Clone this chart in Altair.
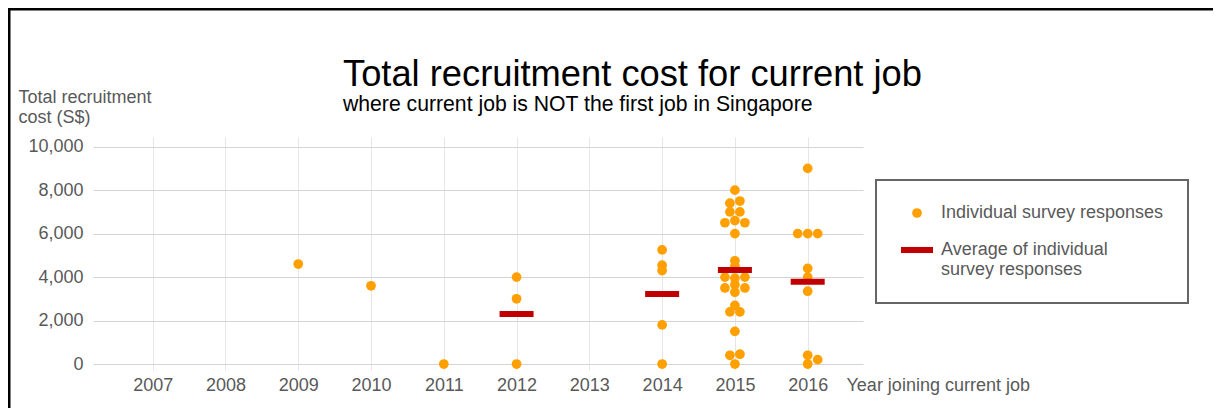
import altair as alt
import pandas as pd

# ---- data ----
point_years = [2009, 2010, 2011,
               2012, 2012, 2012,
               2014, 2014, 2014, 2014, 2014,
               2015, 2015, 2015, 2015, 2015, 2015, 2015, 2015, 2015, 2015, 2015, 2015, 2015,
               2015, 2015, 2015, 2015, 2015, 2015, 2015, 2015, 2015, 2015, 2015, 2015,
               2016, 2016, 2016, 2016, 2016, 2016, 2016, 2016, 2016, 2016]
point_costs = [4600, 3600, 0,
               0, 3000, 4000,
               0, 1800, 4300, 4550, 5250,
               0, 400, 450, 1500, 2400, 2400, 2700, 3300, 3500, 3500, 3650, 3950, 4000,
               4000, 4500, 4750, 6000, 6500, 6500, 6600, 7000, 7000, 7400, 7500, 8000,
               0, 200, 400, 3350, 4000, 4400, 6000, 6000, 6000, 9000]
# beeswarm column of each dot
point_jitter = [0, 0, 0,
                0, 0, 0,
                0, 0, 0, 0, 0,
                0, -0.5, 0.5, 0, -0.5, 0.5, 0, 0, -1, 1, 0, 0, -1,
                1, 0, 0, 0, -1, 1, 0, -0.5, 0.5, -0.5, 0.5, 0,
                0, 1, 0, 0, 0, 0, -1, 0, 1, 0]

avg_years = [2012, 2014, 2015, 2016]
avg_costs = [2300, 3220, 4330, 3790]

year_ticks = list(range(2007, 2017))
cost_ticks = list(range(0, 10001, 1000))

series_names = ["Individual survey responses", "Average of individual survey responses"]

points_df = pd.DataFrame({"year": point_years, "cost": point_costs,
                          "jitter": point_jitter, "series": series_names[0]})
avg_df = pd.DataFrame({"year": avg_years, "cost": avg_costs, "series": series_names[1]})

FONT = "Liberation Sans"
GREY = "#595959"
ORANGE = "#FFA000"
RED = "#C00000"

x_scale = alt.Scale(domain=[2006.18, 2016.76], nice=False, zero=False)
y_scale = alt.Scale(domain=[-276, 10446], nice=False, zero=False)

x_axis = alt.Axis(values=year_ticks, format="d", ticks=False, domain=False,
                  grid=True, gridColor="#e6e6e6", labelPadding=6,
                  title="Year joining current job", titleX=753, titleY=6,
                  titleAlign="left", titleBaseline="top", titleAnchor="start")
y_axis = alt.Axis(values=cost_ticks,
                  labelExpr="datum.value % 2000 === 0 ? format(datum.value, ',') : ''",
                  ticks=False, domain=False, grid=True, gridColor="#d4d4d4",
                  labelPadding=10,
                  title=["Total recruitment", "cost (S$)"], titleAngle=0,
                  titleAlign="left", titleBaseline="top", titleX=-75, titleY=-49,
                  titleLineHeight=20, titleAnchor="start")

legend_expr = ("datum.label === 'Average of individual survey responses' ? "
               "['Average of individual', 'survey responses'] : datum.label")

points = alt.Chart(points_df).transform_calculate(
    xj="datum.year + datum.jitter * 0.137"
).mark_point(filled=True, opacity=1, strokeWidth=0).encode(
    x=alt.X("xj:Q", scale=x_scale, axis=x_axis),
    y=alt.Y("cost:Q", scale=y_scale, axis=y_axis),
    color=alt.Color("series:N", scale=alt.Scale(domain=series_names, range=[ORANGE, RED]),
                    legend=alt.Legend(title=None, labelExpr=legend_expr)),
    shape=alt.Shape("series:N", scale=alt.Scale(domain=series_names,
                                                range=["circle", "M-1,-0.19H1V0.19H-1Z"]),
                    legend=alt.Legend(title=None, labelExpr=legend_expr)),
    size=alt.Size("series:N", scale=alt.Scale(domain=series_names, range=[95, 1024]),
                  legend=alt.Legend(title=None, labelExpr=legend_expr)),
)

avgs = alt.Chart(avg_df).mark_tick(orient="horizontal", size=34, thickness=6,
                                    color=RED, opacity=1).encode(
    x=alt.X("year:Q", scale=x_scale),
    y=alt.Y("cost:Q", scale=y_scale),
)

frame_src = alt.InlineData(values=[{"k": 1}])
frame_top = alt.Chart(frame_src).mark_rule(color="black", strokeWidth=3).encode(
    x=alt.value(-85), x2=alt.value(1120), y=alt.value(-128))
frame_left = alt.Chart(frame_src).mark_rule(color="black", strokeWidth=3).encode(
    x=alt.value(-84), y=alt.value(-129), y2=alt.value(271))

chart = alt.layer(points, avgs, frame_top, frame_left).properties(
    width=770, height=233,
    autosize=alt.AutoSizeParams(type="none"),
    padding={"left": 85, "top": 129, "right": 350, "bottom": 38},
    title=alt.TitleParams(
        text="Total recruitment cost for current job",
        subtitle="where current job is NOT the first job in Singapore",
        anchor="start", frame="group", dx=250, dy=131, offset=22, subtitlePadding=1,
        font=FONT, fontSize=36.3, fontWeight="normal", color="black",
        subtitleFont=FONT, subtitleFontSize=21.2, subtitleColor="black",
    ),
).configure_view(strokeWidth=0).configure_axis(
    labelFont=FONT, labelFontSize=18, labelColor=GREY,
    titleFont=FONT, titleFontSize=18, titleColor=GREY, titleFontWeight="normal",
).configure_legend(
    orient="none", legendX=783, legendY=43, padding=24,
    strokeColor="#666666", strokeWidth=2,
    labelFont=FONT, labelFontSize=18, labelColor=GREY, labelLimit=400,
    labelOffset=7, rowPadding=11, titlePadding=0,
)

chart.save("out.html", embed_options={"renderer": "svg", "actions": False})
